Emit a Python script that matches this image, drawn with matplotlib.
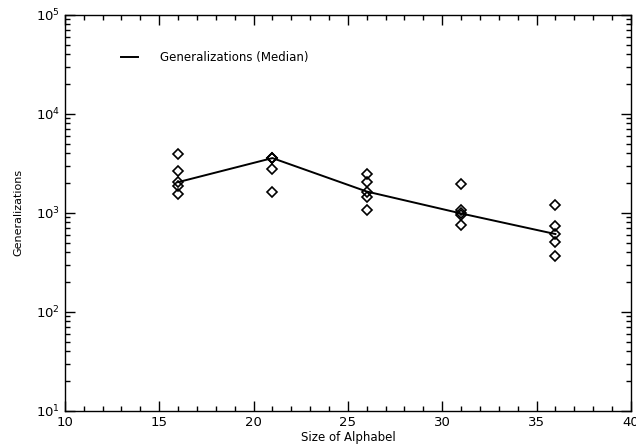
"""Generalizations vs. size of alphabet (log scale)."""

import numpy as np
import matplotlib.pyplot as plt
from matplotlib.ticker import LogLocator, MultipleLocator, NullFormatter

###################################################################################################
###################################################################################################

# Individual runs per alphabet size (overlapping runs drawn twice)
run_sizes = [16, 16, 16, 16, 16,
             21, 21, 21, 21, 21,
             26, 26, 26, 26, 26,
             31, 31, 31, 31, 31,
             36, 36, 36, 36, 36]
run_gens = [3950, 2650, 2070, 1850, 1560,
            3570, 3570, 3570, 2780, 1640,
            2460, 2070, 1640, 1430, 1070,
            1950, 1070, 990, 960, 745,
            1200, 740, 610, 505, 368]

# Median over runs
alphabet_sizes = [16, 21, 26, 31, 36]
median_gens = [2040, 3570, 1640, 985, 610]

plt.rcParams['font.family'] = 'DejaVu Sans'

fig = plt.figure(figsize=(6.36, 4.48), dpi=100)
ax = fig.add_axes([0.102, 0.083, 0.890, 0.884])

ax.plot(alphabet_sizes, median_gens, 'k', linewidth=1.4, label='Generalizations (Median)')
ax.plot(run_sizes, run_gens, linestyle='none', marker='D', markersize=4.6,
        markerfacecolor='none', markeredgecolor='k', markeredgewidth=1.2)

ax.set_yscale('log')
ax.set_xlim(10, 40)
ax.set_ylim(10, 1e5)

ax.xaxis.set_major_locator(MultipleLocator(5))
ax.xaxis.set_minor_locator(MultipleLocator(1))
ax.yaxis.set_major_locator(LogLocator(base=10, numticks=10))
ax.yaxis.set_minor_locator(LogLocator(base=10, subs=np.arange(2, 10), numticks=10))
ax.yaxis.set_minor_formatter(NullFormatter())

ax.tick_params(which='both', direction='in', top=True, right=True, labelsize=9.5, width=1.0)
ax.tick_params(which='major', length=7)
ax.tick_params(which='minor', length=3.5)
for spine in ax.spines.values():
    spine.set_linewidth(1.0)

ax.set_xlabel('Size of Alphabel', fontsize=8.5, labelpad=2)
ax.set_ylabel('Generalizations', fontsize=8, labelpad=9)

ax.legend(loc='upper left', bbox_to_anchor=(0.08, 0.935), frameon=False, fontsize=8.5,
          handlelength=1.5, handletextpad=1.8)

fig.savefig('out.png', dpi=100)
